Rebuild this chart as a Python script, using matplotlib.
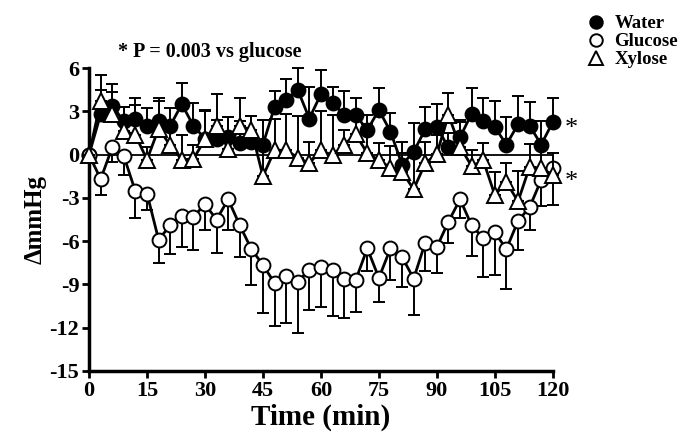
import matplotlib
matplotlib.use("Agg")
import matplotlib.pyplot as plt
from matplotlib.lines import Line2D

plt.rcParams['font.family'] = ['Liberation Serif', 'DejaVu Serif']
plt.rcParams['font.weight'] = 'bold'
plt.rcParams['axes.unicode_minus'] = False

# time points (min)
time = [0, 3, 6, 9, 12, 15, 18, 21, 24, 27, 30, 33, 36, 39, 42, 45, 48, 51, 54, 57,
        60, 63, 66, 69, 72, 75, 78, 81, 84, 87, 90, 93, 96, 99, 102, 105, 108, 111,
        114, 117, 120]

water = [0, 2.8, 3.4, 2.3, 2.5, 2.0, 2.3, 2.0, 3.5, 2.0, 1.1, 1.1, 1.2, 0.8, 0.9,
         0.7, 3.3, 3.8, 4.5, 2.5, 4.2, 3.6, 2.75, 2.75, 1.7, 3.1, 1.6, -0.7, 0.2,
         1.75, 1.9, 0.5, 1.2, 2.85, 2.3, 1.9, 0.7, 2.1, 2.0, 0.7, 2.25]
water_se = [0, 1.7, 1.5, 1.0, 1.45, 1.2, 1.65, 1.2, 1.45, 1.6, 2.0, 1.3, 1.4, 1.5,
            1.8, 1.7, 1.1, 1.45, 1.5, 2.2, 1.7, 1.1, 1.65, 1.2, 1.05, 1.5, 1.3,
            1.6, 2.0, 1.55, 1.6, 1.0, 1.2, 1.8, 1.6, 1.8, 1.9, 1.95, 1.65, 1.6, 1.7]

glucose = [0, -1.7, 0.5, -0.1, -2.55, -2.7, -5.9, -4.9, -4.25, -4.3, -3.45, -4.5,
           -3.1, -4.9, -6.55, -7.65, -8.9, -8.4, -8.8, -8.0, -7.8, -8.0, -8.65,
           -8.7, -6.5, -8.55, -6.5, -7.1, -8.6, -6.1, -6.4, -4.65, -3.1, -4.9,
           -5.8, -5.4, -6.55, -4.6, -3.65, -1.75, -0.95]
glucose_se = [0, 1.1, 1.0, 1.3, 1.85, 1.15, 1.6, 2.0, 2.15, 2.3, 1.75, 2.3, 2.1,
              2.2, 2.5, 3.35, 3.0, 3.25, 3.6, 2.8, 2.8, 3.2, 2.7, 2.2, 1.6, 1.7,
              2.2, 2.1, 2.5, 2.0, 1.8, 1.45, 1.3, 2.1, 2.7, 2.95, 2.8, 2.0, 1.55,
              1.8, 2.55]

xylose = [0, 3.7, 2.85, 1.65, 1.35, -0.35, 1.8, 0.65, -0.35, -0.3, 1.05, 2.0, 0.4,
          2.0, 1.7, -1.5, 0.3, 0.3, -0.2, -0.6, 0.3, -0.05, 0.7, 1.4, 0.1, -0.4,
          -0.9, -1.2, -2.4, -0.6, 0.05, 2.75, 0.55, -0.8, -0.4, -2.8, -1.9, -3.25,
          -0.85, -0.95, -1.4]
xylose_se = [0, 1.8, 1.5, 1.65, 2.1, 0.9, 1.9, 1.2, 1.7, 1.0, 2.0, 2.2, 2.2, 1.9,
             1.0, 3.9, 2.2, 2.5, 2.9, 1.5, 2.7, 2.8, 1.0, 1.5, 2.0, 1.2, 1.5, 1.3,
             2.7, 1.45, 1.3, 1.55, 1.7, 1.1, 1.2, 1.6, 1.3, 2.1, 1.6, 1.4, 1.5]

xticks = [0, 15, 30, 45, 60, 75, 90, 105, 120]
yticks = [-15, -12, -9, -6, -3, 0, 3, 6]

fig = plt.figure(figsize=(6.85, 4.48), dpi=100)
ax = fig.add_axes([0.130, 0.172, 0.677, 0.676])

ax.axhline(0, color='black', lw=1.3, zorder=1)

zeros = [0] * len(time)
series = [
    (water, [zeros, water_se], 'o', 'black', 10),
    (glucose, [glucose_se, zeros], 'o', 'white', 10),
    (xylose, [zeros, xylose_se], '^', 'white', 11),
]
z = 2
for vals, err, mk, face, ms in series:
    ax.errorbar(time, vals, yerr=err, fmt='none', ecolor='black', elinewidth=1.4,
                capsize=4, capthick=1.4, zorder=z, clip_on=False)
    ax.plot(time, vals, color='black', lw=2, marker=mk, markersize=ms,
            markerfacecolor=face, markeredgecolor='black', markeredgewidth=1.4,
            zorder=z + 0.5, clip_on=False)
    z += 1

ax.set_xlim(0, 120)
ax.set_ylim(-15, 6)
ax.set_xticks(xticks)
ax.set_yticks(yticks)
ax.tick_params(axis='both', direction='out', length=5, width=2, labelsize=16, pad=2)
for s in ['top', 'right']:
    ax.spines[s].set_visible(False)
for s in ['left', 'bottom']:
    ax.spines[s].set_linewidth(2.5)

ax.set_xlabel('Time (min)', fontsize=21, fontweight='bold', labelpad=2)
ax.set_ylabel('ΔmmHg', fontsize=18, fontweight='bold', labelpad=2)

ax.text(7.5, 6.4, '* P = 0.003 vs glucose', fontsize=14.5, fontweight='bold',
        ha='left', va='bottom')

ax.text(123, 1.8, '*', fontsize=19, fontweight='normal', ha='left', va='center')
ax.text(123, -1.9, '*', fontsize=19, fontweight='normal', ha='left', va='center')

handles = [
    Line2D([], [], ls='none', marker='o', markersize=9, markerfacecolor='black',
           markeredgecolor='black', markeredgewidth=1.4),
    Line2D([], [], ls='none', marker='o', markersize=9, markerfacecolor='white',
           markeredgecolor='black', markeredgewidth=1.4),
    Line2D([], [], ls='none', marker='^', markersize=10, markerfacecolor='white',
           markeredgecolor='black', markeredgewidth=1.4),
]
fig.legend(handles, ['Water', 'Glucose', 'Xylose'], loc='upper right',
           bbox_to_anchor=(1.012, 1.0), frameon=False, fontsize=13.5,
           handlelength=1.0, handletextpad=0.5, labelspacing=0.05, borderpad=0.3)

fig.savefig('out.png', dpi=100)
